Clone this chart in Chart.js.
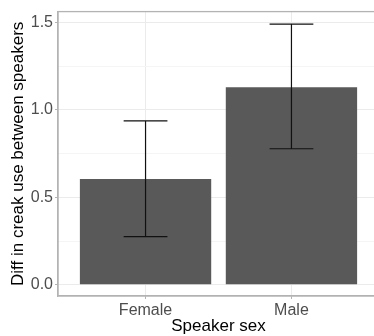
<!DOCTYPE html>
<html>
<head>
<meta charset="utf-8">
<script src="https://cdn.jsdelivr.net/npm/chart.js@4.4.1/dist/chart.umd.min.js"></script>
<style>
    html, body { margin: 0; padding: 0; background: #fff; overflow: hidden; }
    #wrap { width: 380px; height: 336px; }
</style>
</head>
<body>
<div id="wrap"><canvas id="chart" width="380" height="336"></canvas></div>
<script>
// Données
const categories = ['Female', 'Male'];
const means = [0.605, 1.13];
const lower = [0.276, 0.778];
const upper = [0.937, 1.49];
const yTicks = [0, 0.25, 0.5, 0.75, 1, 1.25, 1.5];

const TEXT_GREY = '#4d4d4d';
const LINE_GREY = '#b3b3b3';

// Barres d'erreur + bordure du panneau
const errorBars = {
    id: 'errorBars',
    afterDatasetsDraw(chart) {
        const { ctx, scales: { x, y }, chartArea } = chart;
        ctx.save();
        ctx.strokeStyle = '#111';
        ctx.lineWidth = 1.2;
        categories.forEach((c, i) => {
            const cx = x.getPixelForValue(i + 1);
            const half = x.getPixelForValue(1.15) - x.getPixelForValue(1);
            const yl = y.getPixelForValue(lower[i]);
            const yu = y.getPixelForValue(upper[i]);
            ctx.beginPath();
            ctx.moveTo(cx, yl); ctx.lineTo(cx, yu);
            ctx.moveTo(cx - half, yl); ctx.lineTo(cx + half, yl);
            ctx.moveTo(cx - half, yu); ctx.lineTo(cx + half, yu);
            ctx.stroke();
        });
        ctx.strokeStyle = LINE_GREY;
        ctx.lineWidth = 1.3;
        ctx.strokeRect(chartArea.left, chartArea.top, chartArea.right - chartArea.left, chartArea.bottom - chartArea.top);
        ctx.restore();
    }
};

const isMajor = v => Math.abs(v * 2 - Math.round(v * 2)) < 1e-6;

new Chart(document.getElementById('chart'), {
    type: 'bar',
    data: {
        datasets: [{
            data: means.map((m, i) => ({ x: i + 1, y: m })),
            backgroundColor: '#595959',
            borderWidth: 0,
            barPercentage: 0.9,
            categoryPercentage: 1.0
        }]
    },
    options: {
        responsive: false,
        animation: false,
        events: [],
        layout: { padding: { top: 7, right: 1, left: 0, bottom: 0 } },
        plugins: { legend: { display: false }, tooltip: { enabled: false } },
        scales: {
            x: {
                type: 'linear',
                min: 0.4,
                max: 2.6,
                offset: false,
                afterBuildTicks: s => { s.ticks = [{ value: 1 }, { value: 2 }]; },
                afterFit: s => { s.height = 40; },
                ticks: {
                    callback: v => categories[v - 1] || '',
                    color: TEXT_GREY,
                    font: { family: 'Liberation Sans', size: 16 },
                    padding: 2,
                    maxRotation: 0
                },
                grid: { offset: false, color: '#ebebeb', lineWidth: 1, tickLength: 3, tickColor: LINE_GREY },
                border: { color: LINE_GREY, width: 1.3 },
                title: {
                    display: true,
                    text: 'Speaker sex',
                    color: '#000',
                    font: { family: 'Liberation Sans', size: 17 },
                    padding: { top: 0, bottom: -1 }
                }
            },
            y: {
                min: -0.064,
                max: 1.562,
                afterBuildTicks: s => { s.ticks = yTicks.map(v => ({ value: v })); },
                afterFit: s => { s.width = 58; },
                ticks: {
                    callback: v => isMajor(v) ? v.toFixed(1) : '',
                    color: TEXT_GREY,
                    font: { family: 'Liberation Sans', size: 16 },
                    padding: 2
                },
                grid: {
                    color: c => isMajor(c.tick.value) ? '#ebebeb' : '#f5f5f5',
                    tickColor: c => isMajor(c.tick.value) ? LINE_GREY : 'rgba(0,0,0,0)',
                    tickLength: 3
                },
                border: { color: LINE_GREY, width: 1.3 },
                title: {
                    display: true,
                    text: 'Diff in creak use between speakers',
                    color: '#000',
                    font: { family: 'Liberation Sans', size: 17 },
                    padding: { top: 8, bottom: 0 }
                }
            }
        }
    },
    plugins: [errorBars]
});
</script>
</body>
</html>
